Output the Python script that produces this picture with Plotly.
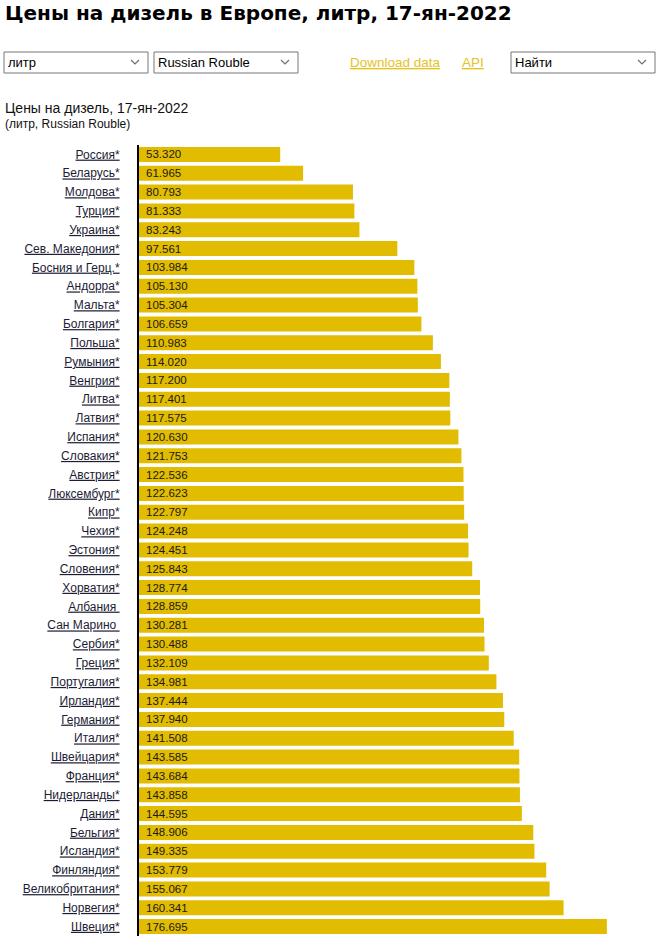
import plotly.graph_objects as go

countries = [
    "Россия*", "Беларусь*", "Молдова*", "Турция*", "Украина*", "Сев. Македония*",
    "Босния и Герц.*", "Андорра*", "Мальта*", "Болгария*", "Польша*", "Румыния*",
    "Венгрия*", "Литва*", "Латвия*", "Испания*", "Словакия*", "Австрия*",
    "Люксембург*", "Кипр*", "Чехия*", "Эстония*", "Словения*", "Хорватия*",
    "Албания\u00a0", "Сан Марино\u00a0", "Сербия*", "Греция*", "Португалия*",
    "Ирландия*", "Германия*", "Италия*", "Швейцария*", "Франция*", "Нидерланды*",
    "Дания*", "Бельгия*", "Исландия*", "Финляндия*", "Великобритания*",
    "Норвегия*", "Швеция*",
]
prices = [
    53.320, 61.965, 80.793, 81.333, 83.243, 97.561,
    103.984, 105.130, 105.304, 106.659, 110.983, 114.020,
    117.200, 117.401, 117.575, 120.630, 121.753, 122.536,
    122.623, 122.797, 124.248, 124.451, 125.843, 128.774,
    128.859, 130.281, 130.488, 132.109, 134.981,
    137.444, 137.940, 141.508, 143.585, 143.684, 143.858,
    144.595, 148.906, 149.335, 153.779, 155.067,
    160.341, 176.695,
]

title = "Цены на дизель в Европе, литр, 17-ян-2022"
subtitle = "Цены на дизель, 17-ян-2022"
unit_note = "(литр, Russian Rouble)"
dropdown_texts = ["литр", "Russian Rouble", "Найти"]
link_texts = ["Download data", "API"]

W, H = 661, 936
ML, MR, MT, MB = 139, 3, 145, 0
PW = W - ML - MR
PH = H - MT - MB


def px(x):
    return (x - ML) / PW


def py(y):
    return (H - MB - y) / PH


BAR = "#E2BC00"
LINK = "#E6C31E"
LABEL = "#1c1c34"
FONT = "Liberation Sans, Arial, sans-serif"

fig = go.Figure()
fig.add_trace(go.Bar(
    x=prices, y=countries, orientation="h",
    marker=dict(color=BAR, line=dict(width=0)),
    hoverinfo="x+y",
))

annotations = []
for c, v in zip(countries, prices):
    annotations.append(dict(
        x=0, y=c, xref="x", yref="y", text=f"{v:.3f}", showarrow=False,
        xanchor="left", yanchor="middle", xshift=5,
        font=dict(family=FONT, size=11.5, color="#1a1a1a"),
    ))

# title
annotations.append(dict(
    x=px(3), y=py(13), xref="paper", yref="paper", text=f"<b>{title}</b>",
    showarrow=False, xanchor="left", yanchor="middle",
    font=dict(family="DejaVu Sans, Verdana, sans-serif", size=20, color="#000"),
))
# subtitle
annotations.append(dict(
    x=px(3), y=py(108), xref="paper", yref="paper", text=subtitle,
    showarrow=False, xanchor="left", yanchor="middle",
    font=dict(family=FONT, size=14, color="#111"),
))
annotations.append(dict(
    x=px(3), y=py(124), xref="paper", yref="paper", text=unit_note,
    showarrow=False, xanchor="left", yanchor="middle",
    font=dict(family=FONT, size=12, color="#111"),
))

shapes = []
boxes = [(4, 148), (154, 298), (511, 655)]
for (x0, x1), t in zip(boxes, dropdown_texts):
    shapes.append(dict(
        type="rect", xref="paper", yref="paper",
        x0=px(x0), x1=px(x1), y0=py(73), y1=py(52),
        line=dict(color="#767676", width=1), fillcolor="white",
    ))
    annotations.append(dict(
        x=px(x0 + 2), y=py(62.5), xref="paper", yref="paper", text=t,
        showarrow=False, xanchor="left", yanchor="middle",
        font=dict(family=FONT, size=13, color="#000"),
    ))
    cx = x1 - 13
    path = (f"M {px(cx-4)} {py(60)} L {px(cx)} {py(64)} L {px(cx+4)} {py(60)}")
    shapes.append(dict(
        type="path", xref="paper", yref="paper", path=path,
        line=dict(color="#6f6f6f", width=1.2),
    ))

for xpos, t in zip([348, 460], link_texts):
    annotations.append(dict(
        x=px(xpos), y=py(62), xref="paper", yref="paper", text=f"<u>{t}</u>",
        showarrow=False, xanchor="left", yanchor="middle",
        font=dict(family=FONT, size=13.5, color=LINK),
    ))

fig.update_layout(
    width=W, height=H,
    margin=dict(l=ML, r=MR, t=MT, b=MB, pad=0),
    paper_bgcolor="white", plot_bgcolor="white",
    showlegend=False,
    bargap=0.2,
    xaxis=dict(range=[0, 196], visible=False, fixedrange=True),
    yaxis=dict(
        autorange="reversed",
        tickmode="array", tickvals=countries,
        ticktext=[f"<u>{c}</u>" for c in countries],
        tickfont=dict(family=FONT, size=12, color=LABEL),
        showline=True, linecolor="#000", linewidth=2,
        showgrid=False, zeroline=False, ticks="",
        ticklabelstandoff=15,
        fixedrange=True,
    ),
    annotations=annotations,
    shapes=shapes,
    font=dict(family=FONT),
)

fig.write_html(
    "out.html",
    config={"displayModeBar": False},
    post_script="document.body.style.margin='0';document.body.style.overflow='hidden';",
)
